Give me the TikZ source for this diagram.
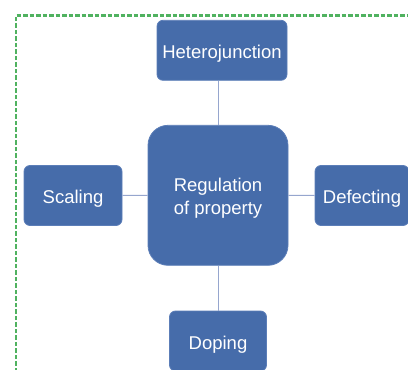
\documentclass[tikz,border=0pt]{standalone}
\usepackage{fontspec}
\setmainfont{Liberation Sans}
\definecolor{boxblue}{RGB}{70,108,170}
\definecolor{boxedge}{RGB}{92,126,184}
\definecolor{linkc}{RGB}{150,166,206}
\definecolor{frameg}{RGB}{80,178,96}
\begin{document}
\begin{tikzpicture}[x=1pt,y=1pt,
  topic/.style={rectangle, rounded corners=6pt, fill=boxblue, draw=boxedge, line width=0.8pt,
    text=white, inner sep=0pt, align=center, font=\fontsize{18.5}{23.3}\selectfont,
    text height=16.7pt, text depth=0pt},
  hub/.style={rectangle, rounded corners=20pt, fill=boxblue, draw=boxedge, line width=0.8pt, inner sep=0pt},
  hubtext/.style={text=white, inner sep=0pt, align=center, font=\fontsize{18.5}{23.3}\selectfont},
  link/.style={draw=linkc, line width=1pt}]
\useasboundingbox (0,0) rectangle (408,-370);
\clip (0,0) rectangle (408,-370);
\draw[frameg, line width=2.6pt, dash pattern=on 4.5pt off 2pt] (15.8,-372) -- (15.8,-15.2) -- (410,-15.2);
\node[hub, minimum width=140pt, minimum height=140pt] (hub) at (218,-195.3) {};
\node[hubtext] (hublabel) at (218,-198) {Regulation\\of property};
\node[topic, minimum width=130pt, minimum height=60pt] (het) at (222,-50.3) {Heterojunction};
\node[topic, minimum width=98pt, minimum height=60pt] (sca) at (73,-195.5) {Scaling};
\node[topic, minimum width=94pt, minimum height=60pt] (def) at (362,-195.5) {Defecting};
\node[topic, minimum width=97pt, minimum height=60pt] (dop) at (218,-341) {Doping};
\draw[link] (hub.north) -- (hub.north |- het.south);
\draw[link] (hub.south) -- (hub.south |- dop.north);
\draw[link] (hub.west) -- (sca.east);
\draw[link] (hub.east) -- (def.west);
\end{tikzpicture}
\end{document}
